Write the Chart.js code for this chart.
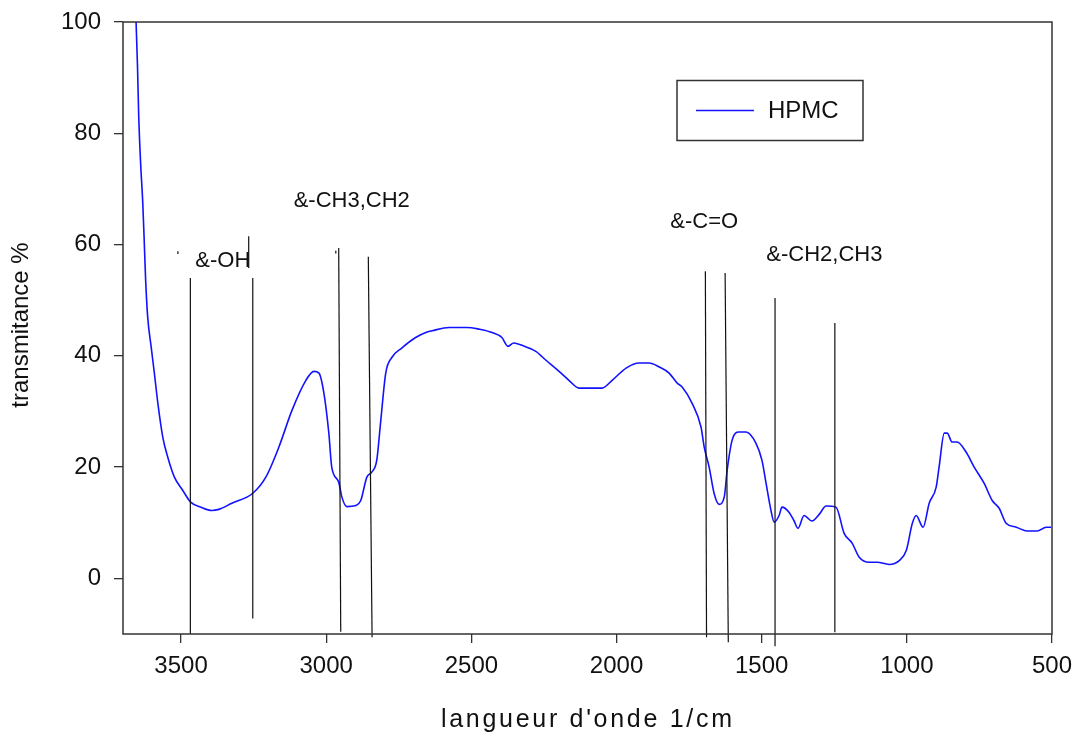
<!DOCTYPE html>
<html>
<head>
<meta charset="utf-8">
<script src="https://cdn.jsdelivr.net/npm/chart.js@4.4.1/dist/chart.umd.min.js"></script>
<style>
  html, body { margin: 0; background: #fff; }
</style>
</head>
<body>
<canvas id="c" width="1077" height="736"></canvas>
<script>
// IR spectrum of HPMC: wavenumber (1/cm) vs transmittance (%)
const WAVENUMBER = [3655, 3650, 3646, 3639, 3632, 3627, 3622, 3615, 3603, 3592, 3580, 3563, 3546, 3523, 3494,
  3467, 3432, 3394, 3370, 3325, 3253, 3208, 3163, 3118, 3070, 3042, 3025, 3008, 2991, 2981, 2957, 2946, 2929, 2898,
  2881, 2860, 2843, 2826, 2812, 2795, 2774, 2740, 2692, 2657, 2635, 2577, 2515, 2474, 2429, 2395, 2374, 2354, 2326,
  2278, 2243, 2198, 2164, 2129, 2050, 2015, 1967, 1922, 1888, 1853, 1819, 1791, 1774, 1740, 1709, 1698, 1681, 1664,
  1647, 1629, 1619, 1602, 1578, 1554, 1520, 1499, 1485, 1468, 1457, 1440, 1430, 1406, 1389, 1375, 1354, 1327, 1302,
  1278, 1244, 1216, 1188, 1164, 1130, 1102, 1061, 1026, 1002, 981, 968, 944, 923, 899, 889, 871, 861, 844, 827, 796,
  768, 734, 706, 682, 658, 623, 585, 551, 520, 503];
const TRANSMITTANCE = [100, 91.9, 83.3, 74.3, 67.6, 60.8, 53.6, 47.0, 41.6, 36.9, 31.5, 25.4, 21.8, 18.2, 15.8,
  13.7, 12.8, 12.2, 12.4, 13.5, 15.3, 18.2, 23.6, 30.2, 35.6, 37.2, 36.9, 33.3, 26.1, 20.0, 17.3, 14.6, 12.9, 13.1,
  14.0, 18.2, 19.1, 21.2, 28.4, 36.9, 39.7, 41.4, 43.3, 44.2, 44.5, 45.1, 45.1, 44.8, 44.2, 43.3, 41.7, 42.3, 41.9,
  40.8, 39.2, 37.2, 35.6, 34.2, 34.2, 35.6, 37.8, 38.7, 38.7, 38.0, 36.9, 35.1, 34.4, 31.5, 27.2, 23.6, 20.0, 15.3,
  13.3, 14.6, 19.4, 24.8, 26.3, 26.3, 24.3, 21.2, 17.1, 12.2, 10.1, 11.3, 12.8, 11.9, 10.4, 9.0, 11.3, 10.3, 11.5,
  13.0, 12.8, 8.1, 6.3, 3.8, 2.9, 2.9, 2.5, 3.2, 5.0, 9.9, 11.3, 9.2, 13.5, 16.4, 20.0, 26.1, 26.1, 24.5, 24.5, 22.7,
  20.0, 17.1, 14.0, 12.6, 9.9, 9.2, 8.5, 8.5, 9.2, 9.2];

// vertical band markers: [wavenumber top, T top, wavenumber bottom, T bottom]
const MARKERS = [
  [3468, 54.0, 3468, -10.0],
  [3267, 61.5, 3267, 55.8],
  [3253, 54.0, 3253, -7.2],
  [2957, 59.4, 2950, -9.6],
  [2855, 57.8, 2842, -10.6],
  [1694, 55.2, 1690, -10.6],
  [1626, 54.9, 1615, -11.5],
  [1454, 50.4, 1454, -12.2],
  [1248, 45.9, 1248, -9.7],
  [3511, 58.8, 3511, 58.3],
  [2967, 58.9, 2967, 58.4]
];

// band assignments: [text, wavenumber, T]
const BAND_LABELS = [
  ['&-OH', 3356, 57.0],
  ['&-CH3,CH2', 2912, 67.8],
  ['&-C=O', 1698, 64.0],
  ['&-CH2,CH3', 1284, 58.1]
];

const X_TICKS = [3500, 3000, 2500, 2000, 1500, 1000, 500];
const Y_TICKS = [0, 20, 40, 60, 80, 100];
const SERIES = 'HPMC';
const X_TITLE = "langueur d'onde 1/cm";
const Y_TITLE = 'transmitance %';

const FONT = '"Liberation Sans", Arial, sans-serif';
const BLUE = '#1212ff';

const spectrum = WAVENUMBER.map((w, i) => ({x: w, y: TRANSMITTANCE[i]}));

const datasets = MARKERS.map(m => ({
  data: [{x: m[0], y: m[1]}, {x: m[2], y: m[3]}],
  borderColor: '#111', borderWidth: 1.2, pointRadius: 0, clip: false, order: 0
}));
datasets.push({
  data: spectrum, borderColor: BLUE, borderWidth: 1.6, pointRadius: 0,
  cubicInterpolationMode: 'monotone', order: 1
});

// axis boxes have fixed sizes, no extra room for label overhang
const noPad = s => { s.paddingLeft = s.paddingRight = s.paddingTop = s.paddingBottom = 0; };

// frame, legend box, band labels and axis titles
const decor = {
  id: 'decor',
  afterDraw(chart) {
    const {ctx, chartArea: a, scales: {x, y}} = chart;
    ctx.save();
    ctx.strokeStyle = '#333';
    ctx.lineWidth = 1.5;
    ctx.strokeRect(a.left, a.top, a.right - a.left, a.bottom - a.top);

    // legend
    ctx.strokeRect(677, 80.5, 186, 60);
    ctx.strokeStyle = BLUE;
    ctx.beginPath(); ctx.moveTo(696, 110.5); ctx.lineTo(754, 110.5); ctx.stroke();
    ctx.fillStyle = '#111';
    ctx.font = `24px ${FONT}`;
    ctx.textBaseline = 'middle';
    ctx.textAlign = 'left';
    ctx.fillText(SERIES, 768, 111);

    // band labels
    ctx.font = `22px ${FONT}`;
    ctx.textAlign = 'center';
    BAND_LABELS.forEach(([t, w, v]) => ctx.fillText(t, x.getPixelForValue(w), y.getPixelForValue(v)));

    // x title
    ctx.font = `25px ${FONT}`;
    ctx.textAlign = 'left';
    ctx.textBaseline = 'alphabetic';
    ctx.letterSpacing = '2.7px';
    ctx.fillText(X_TITLE, 441, 727);
    ctx.letterSpacing = '0px';

    // y title
    ctx.translate(28, 325);
    ctx.rotate(-Math.PI / 2);
    ctx.font = `24px ${FONT}`;
    ctx.textAlign = 'center';
    ctx.textBaseline = 'alphabetic';
    ctx.fillText(Y_TITLE, 0, 0);
    ctx.restore();
  }
};

new Chart(document.getElementById('c'), {
  type: 'line',
  data: {datasets},
  options: {
    responsive: false,
    animation: false,
    layout: {padding: {top: 22, right: 25, left: 0, bottom: 0}},
    plugins: {legend: {display: false}, tooltip: {enabled: false}},
    scales: {
      x: {
        type: 'linear', reverse: true, min: 500, max: 3700,
        afterBuildTicks: s => { s.ticks = X_TICKS.map(v => ({value: v})); },
        afterFit: s => { s.height = 102; noPad(s); },
        border: {display: false},
        grid: {drawOnChartArea: false, tickLength: 9, color: '#333', lineWidth: 1.3},
        ticks: {color: '#111', font: {family: FONT, size: 24}, padding: 9, maxRotation: 0, autoSkip: false,
          callback: v => String(v)}
      },
      y: {
        type: 'linear', min: -10, max: 100,
        afterBuildTicks: s => { s.ticks = Y_TICKS.map(v => ({value: v})); },
        afterFit: s => { s.width = 123; noPad(s); },
        border: {display: false},
        grid: {drawOnChartArea: false, tickLength: 9, color: '#333', lineWidth: 1.3},
        ticks: {color: '#111', font: {family: FONT, size: 24}, padding: 13, callback: v => String(v)}
      }
    }
  },
  plugins: [decor]
});
</script>
</body>
</html>
